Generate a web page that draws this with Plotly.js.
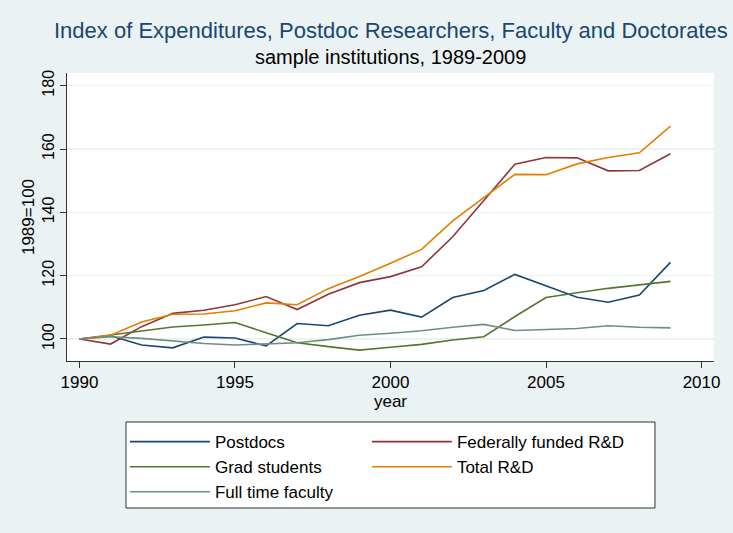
<!DOCTYPE html>
<html><head><meta charset="utf-8">
<script src="https://cdn.plot.ly/plotly-3.0.1.min.js"></script>
<style>body{margin:0;background:#eaf2f3}#chart{width:733px;height:533px}</style>
</head><body><div id="chart"></div>
<script>
const years = [1990,1991,1992,1993,1994,1995,1996,1997,1998,1999,2000,2001,2002,2003,2004,2005,2006,2007,2008,2009];
const postdocs = [100,101,98.1,97.2,100.6,100.3,97.8,104.9,104.2,107.5,109.1,106.9,113.1,115.3,120.4,116.7,113.2,111.6,113.9,124.2];
const fedRD = [100,98.4,103.9,108.1,109.1,110.8,113.4,109.3,114.1,117.8,119.7,122.8,132.3,143.6,155.2,157.3,157.2,153.1,153.2,158.5];
const gradStudents = [100,101.3,102.5,103.8,104.4,105.2,102,98.8,97.6,96.5,97.4,98.3,99.7,100.7,107.1,113.1,114.6,116,117.1,118.2];
const totalRD = [100,101.2,105.4,107.8,107.9,108.9,111.4,110.8,115.9,119.7,123.9,128.3,137.3,144.6,152.0,151.9,155.3,157.3,158.8,167.2];
const faculty = [100,100.7,100.2,99.4,98.6,98.1,98.4,98.8,99.8,101.2,101.8,102.6,103.7,104.6,102.7,102.9,103.3,104.2,103.7,103.5];
const xTicks = [1990,1995,2000,2005,2010];
const yTicks = [100,120,140,160,180];

const mk = (y, name, color, lg) => ({x: years, y: y, name: name, type: 'scatter', mode: 'lines',
  line: {color: color, width: 1.6}, legend: lg});
const data = [
  mk(postdocs, 'Postdocs', '#1a476f', 'legend'),
  mk(fedRD, 'Federally funded R&D', '#90353b', 'legend2'),
  mk(gradStudents, 'Grad students', '#55752f', 'legend'),
  mk(totalRD, 'Total R&D', '#e37e00', 'legend2'),
  mk(faculty, 'Full time faculty', '#6e8e84', 'legend')
];
const fam = 'Liberation Sans, Arial, sans-serif';
const legendBase = {orientation: 'v', xanchor: 'left', y: -0.219, yanchor: 'top',
  bgcolor: 'rgba(0,0,0,0)', borderwidth: 0, itemwidth: 80, font: {size: 17}, traceorder: 'normal'};
const layout = {
  width: 733, height: 533,
  paper_bgcolor: '#eaf2f3', plot_bgcolor: '#ffffff',
  margin: {l: 67, r: 19, t: 73, b: 172},
  font: {family: fam, size: 16, color: '#000'},
  showlegend: true,
  annotations: [
    {text: 'Index of Expenditures, Postdoc Researchers, Faculty and Doctorates', xref: 'paper', yref: 'paper',
     x: 0.5, y: 1, xanchor: 'center', yanchor: 'bottom', yshift: 28, showarrow: false,
     font: {size: 22, color: '#1a476f', family: fam}},
    {text: 'sample institutions, 1989-2009', xref: 'paper', yref: 'paper',
     x: 0.5, y: 1, xanchor: 'center', yanchor: 'bottom', yshift: 3, showarrow: false,
     font: {size: 20, color: '#000', family: fam}}
  ],
  shapes: [
    {type: 'rect', xref: 'paper', yref: 'paper', x0: 0.0912, x1: 0.9088, y0: -0.2118, y1: -0.5104,
     fillcolor: '#ffffff', line: {color: '#333', width: 1}, layer: 'below'}
  ],
  xaxis: {range: [1989.6, 2010.4], tickvals: xTicks, ticktext: xTicks.map(String),
    showgrid: false, zeroline: false, showline: true, linecolor: '#333', linewidth: 1,
    ticks: 'outside', ticklen: 6, tickcolor: '#333', tickfont: {size: 17},
    title: {text: 'year', standoff: 2, font: {size: 17}}},
  yaxis: {range: [93.05, 184], tickvals: yTicks, ticktext: yTicks.map(String), tickangle: -90,
    showgrid: true, gridcolor: '#eaf2f3', gridwidth: 1.2, zeroline: false, showline: true, linecolor: '#333', linewidth: 1,
    ticks: 'outside', ticklen: 6, tickcolor: '#333', tickfont: {size: 16},
    title: {text: '1989=100', standoff: 0, font: {size: 17}}},
  legend: Object.assign({x: 0.0895}, legendBase),
  legend2: Object.assign({x: 0.4635}, legendBase)
};
Plotly.newPlot('chart', data, layout, {displayModeBar: false, staticPlot: true});
</script></body></html>
